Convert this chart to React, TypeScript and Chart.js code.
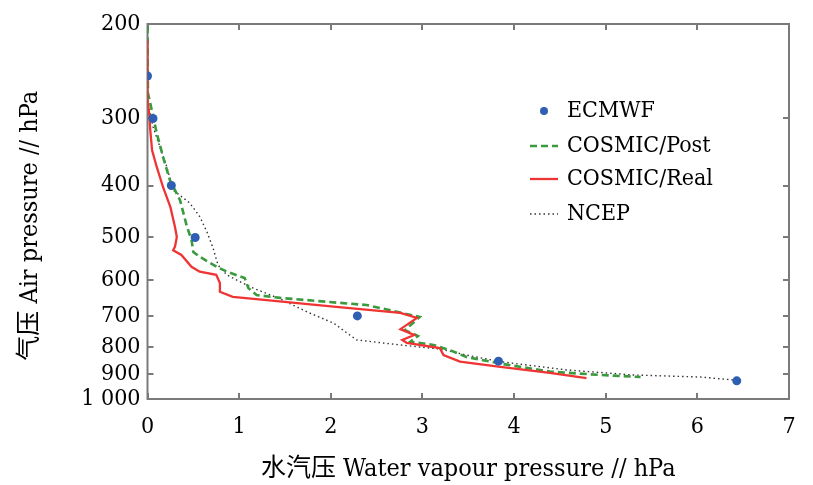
import { useEffect, useRef } from 'react';
import { Chart, registerables } from 'chart.js';
Chart.register(...registerables);

// ---- data ----
const seriesNames = ['ECMWF', 'COSMIC/Post', 'COSMIC/Real', 'NCEP'];

const ecmwfVapour = [0.0, 0.06, 0.26, 0.52, 2.29, 3.83, 6.43];
const ecmwfPressure = [250, 300, 400, 500, 700, 850, 925];

const postVapour = [0.0, 0.005, 0.046, 0.1, 0.17, 0.245, 0.355, 0.43, 0.48, 0.5, 0.57, 0.755, 0.865, 1.06, 1.1, 1.19, 1.45, 2.1, 2.39, 2.97, 2.81, 2.95, 2.87, 3.12, 3.3, 3.48, 3.85, 4.39, 4.94, 5.38];
const postPressure = [202, 269, 289, 319, 354, 391, 426, 477, 505, 532, 543, 567, 579, 595, 621, 640, 648, 662, 668, 703, 744, 763, 782, 793, 811, 835, 859, 889, 902, 910];

const realVapour = [0.0, 0.0, 0.02, 0.03, 0.05, 0.1, 0.17, 0.25, 0.3, 0.32, 0.3, 0.28, 0.37, 0.48, 0.57, 0.75, 0.79, 0.79, 0.93, 1.3, 2.03, 2.76, 2.94, 2.76, 2.91, 2.78, 2.83, 3.19, 3.23, 3.41, 3.85, 4.39, 4.79];
const realPressure = [214, 277, 296, 315, 344, 369, 403, 439, 478, 499, 520, 528, 539, 567, 579, 587, 608, 631, 645, 654, 673, 691, 706, 741, 760, 776, 786, 804, 828, 852, 871, 894, 914];

const ncepVapour = [0.0, 0.0, 0.06, 0.136, 0.21, 0.28, 0.46, 0.57, 0.65, 0.715, 0.77, 0.865, 1.12, 1.45, 1.74, 2.03, 2.28, 2.76, 3.19, 3.48, 3.85, 4.58, 5.3, 6.03, 6.41];
const ncepPressure = [233, 277, 311, 339, 369, 408, 431, 457, 489, 523, 563, 587, 618, 651, 688, 722, 776, 793, 807, 828, 852, 883, 902, 910, 922];

const xTicks = [0, 1, 2, 3, 4, 5, 6, 7];
const yTicks = [200, 300, 400, 500, 600, 700, 800, 900, 1000];
const yTickLabels = ['200', '300', '400', '500', '600', '700', '800', '900', '1 000'];

const xTitle = '水汽压 Water vapour pressure // hPa';
const yTitle = '气压 Air pressure // hPa';

const FAMILY = "'DejaVu Serif Condensed', 'Liberation Serif', 'Noto Sans CJK SC', serif";

const zip = (xs: number[], ys: number[]) => xs.map((x, i) => ({ x, y: ys[i] }));

const framePlugin = {
  id: 'frameTicks',
  beforeDatasetsDraw(chart: any) {
    const { ctx, chartArea: a, scales } = chart;
    const xs = scales.x;
    const ys = scales.y;
    ctx.save();
    ctx.strokeStyle = '#7a7a7a';
    ctx.lineWidth = 2;
    ctx.strokeRect(a.left, a.top, a.right - a.left, a.bottom - a.top);
    ctx.beginPath();
    const L = 6;
    xs.ticks.forEach((t: any) => {
      const px = Math.round(xs.getPixelForValue(t.value));
      ctx.moveTo(px, a.bottom);
      ctx.lineTo(px, a.bottom - L);
      ctx.moveTo(px, a.top);
      ctx.lineTo(px, a.top + L);
    });
    ys.ticks.forEach((t: any) => {
      const py = Math.round(ys.getPixelForValue(t.value));
      ctx.moveTo(a.left, py);
      ctx.lineTo(a.left + L, py);
      ctx.moveTo(a.right, py);
      ctx.lineTo(a.right - L, py);
    });
    ctx.stroke();
    ctx.restore();
  },
};

const legendPlugin = {
  id: 'customLegend',
  afterDraw(chart: any) {
    const { ctx } = chart;
    const rows = [111, 146, 179, 214];
    ctx.save();
    ctx.font = `23px ${FAMILY}`;
    ctx.textBaseline = 'middle';
    ctx.textAlign = 'left';
    chart.data.datasets.forEach((ds: any, i: number) => {
      const y = rows[i];
      if (ds.showLine) {
        ctx.save();
        ctx.strokeStyle = ds.borderColor;
        ctx.lineWidth = ds.borderWidth;
        ctx.setLineDash(ds.borderDash || []);
        ctx.beginPath();
        ctx.moveTo(530, y);
        ctx.lineTo(558, y);
        ctx.stroke();
        ctx.restore();
      } else {
        ctx.fillStyle = ds.backgroundColor;
        ctx.beginPath();
        ctx.arc(544, y, 4, 0, Math.PI * 2);
        ctx.fill();
      }
      ctx.fillStyle = '#000';
      ctx.fillText(ds.label, 567, y);
    });
    ctx.restore();
  },
};

export default function App() {
  const ref = useRef<HTMLCanvasElement | null>(null);
  useEffect(() => {
    if (!ref.current) return;
    const font = { family: FAMILY, size: 23 };
    const titleFont = { family: FAMILY, size: 25 };
    const chart = new Chart(ref.current, {
      type: 'scatter',
      data: {
        datasets: [
          {
            label: seriesNames[0],
            data: zip(ecmwfVapour, ecmwfPressure),
            showLine: false,
            backgroundColor: '#2f5fb3',
            borderColor: '#2f5fb3',
            pointRadius: 4.5,
            pointBorderWidth: 0,
            order: 0,
          },
          {
            label: seriesNames[1],
            data: zip(postVapour, postPressure),
            showLine: true,
            borderColor: '#3a9a3e',
            borderWidth: 2.6,
            borderDash: [7, 4],
            pointRadius: 0,
            order: 2,
          },
          {
            label: seriesNames[2],
            data: zip(realVapour, realPressure),
            showLine: true,
            borderColor: '#f03434',
            borderWidth: 2.3,
            pointRadius: 0,
            order: 1,
          },
          {
            label: seriesNames[3],
            data: zip(ncepVapour, ncepPressure),
            showLine: true,
            borderColor: '#333333',
            borderWidth: 1.4,
            borderDash: [1.5, 3],
            pointRadius: 0,
            order: 3,
          },
        ],
      },
      options: {
        animation: false,
        responsive: true,
        maintainAspectRatio: false,
        layout: { padding: { top: 24, right: 24, left: 0, bottom: 0 } },
        plugins: { legend: { display: false }, tooltip: { enabled: false } },
        scales: {
          x: {
            type: 'linear',
            min: 0,
            max: 7,
            afterBuildTicks: (s: any) => {
              s.ticks = xTicks.map((v) => ({ value: v }));
            },
            afterFit: (s: any) => {
              s.height = 86;
            },
            ticks: { font, color: '#000', padding: 14, autoSkip: false, maxRotation: 0 },
            grid: { display: false, drawTicks: false },
            border: { display: false },
            title: { display: true, text: xTitle, font: titleFont, color: '#000', padding: { top: 0, bottom: 1 } },
          },
          y: {
            type: 'logarithmic',
            reverse: true,
            min: 200,
            max: 1000,
            afterBuildTicks: (s: any) => {
              s.ticks = yTicks.map((v) => ({ value: v }));
            },
            afterFit: (s: any) => {
              s.width = 147.5;
            },
            ticks: {
              font,
              color: '#000',
              padding: 7,
              autoSkip: false,
              callback: (_v: any, i: number) => yTickLabels[i],
            },
            grid: { display: false, drawTicks: false },
            border: { display: false },
            title: { display: true, text: yTitle + '    ', font: titleFont, color: '#000', padding: { top: 15, bottom: 0 } },
          },
        },
      },
      plugins: [framePlugin, legendPlugin],
    });
    return () => chart.destroy();
  }, []);
  return (
    <div style={{ position: 'absolute', left: 0, top: 0, width: 813, height: 485, background: '#fff' }}>
      <canvas ref={ref} />
    </div>
  );
}
